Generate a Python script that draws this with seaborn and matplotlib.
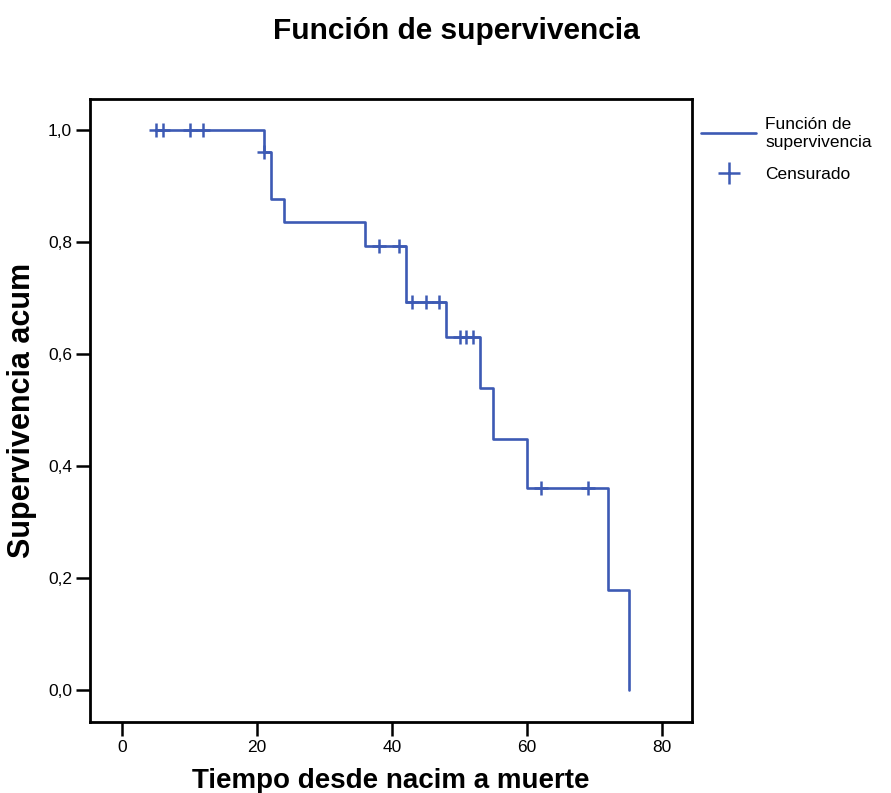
import matplotlib
matplotlib.use('Agg')
import matplotlib.pyplot as plt
from matplotlib.lines import Line2D
import numpy as np
import pandas as pd
import seaborn as sns

# Kaplan-Meier steps
step_time = [5, 21, 22, 24, 36, 42, 48, 53, 55, 60, 72, 75]
step_surv = [1.0, 0.96, 0.877, 0.835, 0.793, 0.693, 0.631, 0.540, 0.449, 0.360, 0.179, 0.0]

# censored observations
cens_time = [5, 6, 10, 12, 21, 38, 41, 43, 45, 47, 50, 51, 52, 62, 69]

y_ticks = [0.0, 0.2, 0.4, 0.6, 0.8, 1.0]
y_labels = ['0,0', '0,2', '0,4', '0,6', '0,8', '1,0']
x_ticks = [0, 20, 40, 60, 80]

blue = '#3D5AB4'

sns.set_style('ticks')
plt.rcParams['font.family'] = ['Liberation Sans', 'DejaVu Sans']
plt.rcParams['text.color'] = 'black'
plt.rcParams['axes.labelcolor'] = 'black'
plt.rcParams['xtick.color'] = 'black'
plt.rcParams['ytick.color'] = 'black'

df_steps = pd.DataFrame({'t': step_time, 's': step_surv})
# level of the curve at each censored time (step function, post)
idx = np.searchsorted(step_time, cens_time, side='right') - 1
df_cens = pd.DataFrame({'t': cens_time, 's': np.array(step_surv)[idx]})

fig = plt.figure(figsize=(8.91, 7.93), dpi=100)
ax = fig.add_axes([0.101, 0.0895, 0.6757, 0.7855])

sns.lineplot(data=df_steps, x='t', y='s', ax=ax, color=blue, linewidth=1.9,
             drawstyle='steps-post', legend=False)
sns.scatterplot(data=df_cens, x='t', y='s', ax=ax, marker='+', color=blue,
                s=90, linewidth=1.8, legend=False, zorder=3)

ax.set_xlim(-4.74, 84.4)
ax.set_ylim(-0.057, 1.055)
ax.set_xticks(x_ticks)
ax.set_yticks(y_ticks)
ax.set_yticklabels(y_labels)
ax.tick_params(direction='out', length=10, width=1.8, labelsize=12.5, pad=3, color='black')
for sp in ax.spines.values():
    sp.set_linewidth(2)
    sp.set_color('black')
    sp.set_visible(True)

ax.set_xlabel('Tiempo desde nacim a muerte', fontsize=20, fontweight='bold', labelpad=9)
ax.set_ylabel('Supervivencia acum', fontsize=22, fontweight='bold', labelpad=8)
fig.suptitle('Función de supervivencia', fontsize=21.5, fontweight='bold', x=0.512, y=0.978)

handles = [Line2D([], [], color=blue, linewidth=1.9),
           Line2D([], [], color=blue, linestyle='none', marker='+', markersize=16, markeredgewidth=1.8)]
fig.legend(handles, ['Función de\nsupervivencia', 'Censurado'], loc='upper left',
           bbox_to_anchor=(0.769, 0.872), frameon=False, fontsize=12.5,
           handlelength=3.2, handletextpad=0.5, labelspacing=1.0)

fig.savefig('out.png', dpi=100)
